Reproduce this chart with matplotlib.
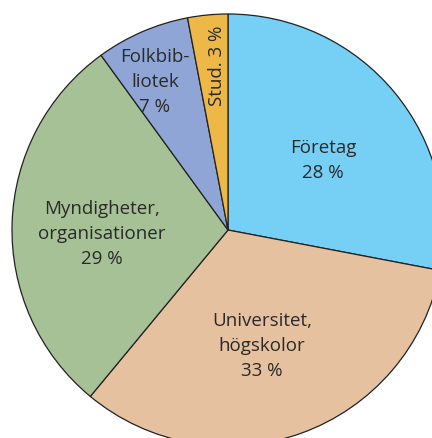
import matplotlib
matplotlib.use("Agg")
import matplotlib.pyplot as plt

labels = ["Företag\n28 %", "Universitet,\nhögskolor\n33 %", "Myndigheter,\norganisationer\n29 %",
          "Folkbib-\nliotek\n7 %", "Stud. 3 %"]
values = [28, 33, 29, 7, 3]
colors = ["#76CFF4", "#E6C1A0", "#A6C196", "#8FA5D6", "#EDB848"]

fig = plt.figure(figsize=(4.32, 4.38), dpi=100)
ax = fig.add_axes([0, 0, 1, 1])
ax.pie(values, colors=colors, startangle=90, counterclock=False, radius=1.0,
       wedgeprops=dict(edgecolor="#222222", linewidth=0.9))
ax.set_xlim(-228/216, (432-228)/216)
ax.set_ylim(-(438-230)/216, 230/216)
ax.set_aspect("auto")
ax.axis("off")

pos = [(0.44, 0.324), (0.157, -0.537), (-0.583, -0.019), (-0.338, 0.685), (-0.051, 0.759)]
rot = [0, 0, 0, 0, 90]
for lab, (x, y), r in zip(labels, pos, rot):
    ax.text(x, y, lab, ha="center", va="center", fontsize=13.5, family="Open Sans",
            color="#2a2a2a", linespacing=1.5, rotation=r, multialignment="center")

fig.savefig("out.png", dpi=100)
